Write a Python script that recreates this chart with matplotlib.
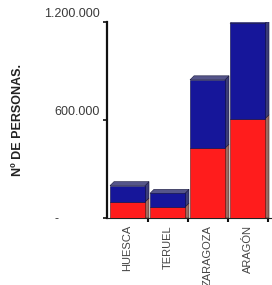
import matplotlib
matplotlib.use("Agg")
import matplotlib.pyplot as plt
from matplotlib.patches import Polygon
from matplotlib.transforms import ScaledTranslation

plt.rcParams['font.family'] = ['Liberation Sans', 'DejaVu Sans']

# data
categories = ["HUESCA", "TERUEL", "ZARAGOZA", "ARAGÓN"]
red_vals = [98000, 67000, 428000, 608000]
blue_vals = [100000, 84000, 418000, 584000]
ytick_vals = [0, 600000, 1200000]
ytick_labels = ["-", "600.000", "1.200.000"]

RED = "#ff1c1c"
RED_SIDE = "#9a6a60"
BLUE = "#16169a"
BLUE_SIDE = "#3c3c78"
TOP = "#55558a"

fig = plt.figure(figsize=(2.72, 2.85), dpi=100)
fig.patch.set_facecolor("white")
ax = fig.add_axes([107/272, 67/285, 165/272, 196/285])

w = 0.875      # front face width
dx = 0.1       # depth in x
dy = 24500     # depth in y

x = list(range(len(categories)))
ax.bar(x, red_vals, width=w, align="edge", color=RED, edgecolor="#5a1010", linewidth=0.4, zorder=3)
ax.bar(x, blue_vals, width=w, bottom=red_vals, align="edge", color=BLUE,
       edgecolor="#0a0a40", linewidth=0.4, zorder=3)

for i in x:
    x1 = i + w
    r = red_vals[i]
    t = r + blue_vals[i]
    # side faces
    ax.add_patch(Polygon([(x1, 0), (x1 + dx, 0), (x1 + dx, r + dy), (x1, r)],
                         closed=True, facecolor=RED_SIDE, edgecolor="#3a2020", linewidth=0.4, zorder=2))
    ax.add_patch(Polygon([(x1, r), (x1 + dx, r + dy), (x1 + dx, t + dy), (x1, t)],
                         closed=True, facecolor=BLUE_SIDE, edgecolor="#15153a", linewidth=0.4, zorder=2))
    # top face
    ax.add_patch(Polygon([(i, t), (x1, t), (x1 + dx, t + dy), (i + dx, t + dy)],
                         closed=True, facecolor=TOP, edgecolor="#15153a", linewidth=0.4, zorder=2))

ax.set_xlim(-0.075, 4.05)
ax.set_ylim(0, 1200000)

for s in ["top", "right"]:
    ax.spines[s].set_visible(False)
ax.spines["left"].set_linewidth(1.6)
ax.spines["left"].set_color("#111111")
ax.spines["bottom"].set_linewidth(0.8)
ax.spines["bottom"].set_color("#222222")

ax.set_yticks(ytick_vals)
ax.set_yticklabels(ytick_labels, fontsize=9, color="#3a3a3a")
ax.tick_params(axis="y", length=3, width=1.2, color="#111111", pad=2)
for lab, v in zip(ax.get_yticklabels(), ytick_vals):
    if v == 0:
        lab.set_transform(lab.get_transform() + ScaledTranslation(-0.42, 0.0, fig.dpi_scale_trans))
    else:
        lab.set_transform(lab.get_transform() + ScaledTranslation(0, 0.095, fig.dpi_scale_trans))

ax.set_xticks([i + w / 2 for i in x])
ax.set_xticklabels(categories, rotation=90, fontsize=8, color="#444444")
ax.tick_params(axis="x", length=0, pad=5)
ax.set_xticks([i + 0.95 for i in x], minor=True)
ax.tick_params(axis="x", which="minor", length=3, width=1.5, color="#111111")

fig.text(18/272, 1 - 120/285, "Nº DE PERSONAS.", rotation=90, fontsize=9, fontweight="bold",
         color="#222222", ha="center", va="center")

fig.savefig("out.png", dpi=100)
